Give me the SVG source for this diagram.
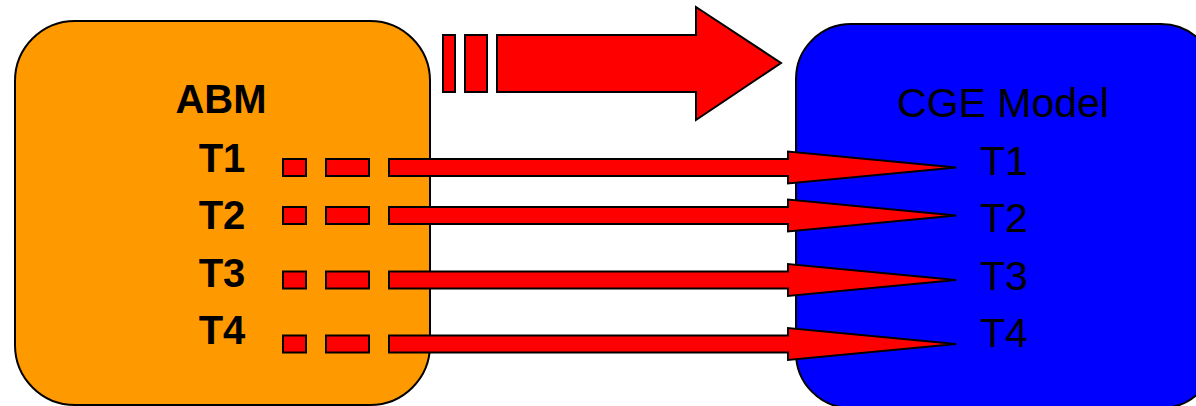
<svg xmlns="http://www.w3.org/2000/svg" width="1196" height="406" viewBox="0 0 1196 406">
  <style>
    .box { stroke: #000; stroke-width: 2; }
    .red { fill: #ff0000; stroke: #000; stroke-width: 2; stroke-linejoin: miter; }
    .lbl-b { font-family: "Liberation Sans", Arial, sans-serif; font-weight: bold; font-size: 40px; fill: #000; text-anchor: middle; }
    .lbl-r { font-family: "Liberation Sans", Arial, sans-serif; font-size: 41px; fill: #000; text-anchor: middle; }
  </style>
  <defs>
    <!-- one dashed feed arrow, centred on y=0 -->
    <g id="feed">
      <rect class="red" x="283" y="-8.5" width="23" height="17"/>
      <rect class="red" x="326" y="-8.5" width="43" height="17"/>
      <path class="red" d="M389,-8.5 H788 V-16 L956,0 L788,16 V8.5 H389 Z"/>
    </g>
  </defs>

  <g id="abm">
    <rect class="box" x="15" y="21" width="415" height="384" rx="60" ry="60" fill="#ff9900"/>
    <text class="lbl-b" x="221" y="113">ABM</text>
    <text class="lbl-b" x="222" y="172">T1</text>
    <text class="lbl-b" x="222" y="229">T2</text>
    <text class="lbl-b" x="222" y="287">T3</text>
    <text class="lbl-b" x="222" y="344">T4</text>
  </g>

  <g id="cge">
    <rect class="box" x="796" y="24" width="420" height="384" rx="55" ry="55" fill="#0000ff"/>
    <text class="lbl-r" x="1003" y="117">CGE Model</text>
    <text class="lbl-r" x="1004" y="175">T1</text>
    <text class="lbl-r" x="1004" y="232">T2</text>
    <text class="lbl-r" x="1004" y="290">T3</text>
    <text class="lbl-r" x="1004" y="347">T4</text>
  </g>

  <g id="connectors">
    <!-- main transfer arrow -->
    <rect class="red" x="443" y="35" width="12" height="57"/>
    <rect class="red" x="465" y="35" width="22" height="57"/>
    <path class="red" d="M497,35 H696 V7 L781,63 L696,120 V92 H497 Z"/>
    <!-- per-item feeds -->
    <use href="#feed" transform="translate(0,167.5)"/>
    <use href="#feed" transform="translate(0,215.5)"/>
    <use href="#feed" transform="translate(0,280)"/>
    <use href="#feed" transform="translate(0,344)"/>
  </g>
</svg>
